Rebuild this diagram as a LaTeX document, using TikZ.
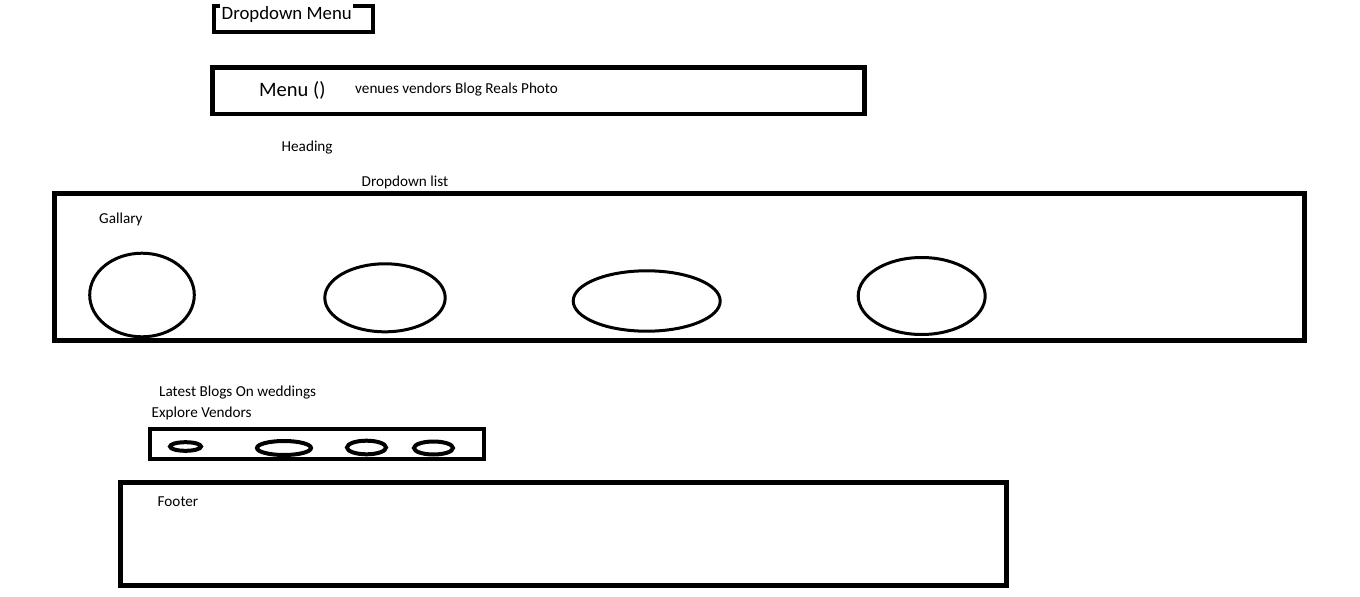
\documentclass[tikz,border=0pt]{standalone}
\usepackage{fontspec}
\setmainfont{Carlito}
\begin{document}
\begin{tikzpicture}[x=1pt,y=-1pt,
  frame/.style={draw=black,line width=4.5pt},
  bigoval/.style={draw=black,line width=3pt},
  smalloval/.style={draw=black,line width=4pt},
  lbl/.style={anchor=base west,inner sep=0pt,font=\fontsize{15.2}{18}\selectfont,text=black},
  menulbl/.style={anchor=base west,inner sep=0pt,font=\fontsize{20.5}{24}\selectfont,text=black},
  ddlbl/.style={anchor=base west,inner ysep=0pt,inner xsep=1.5pt,fill=white,text height=16.5pt,text depth=4pt,font=\fontsize{18.8}{22}\selectfont,text=black}]
\useasboundingbox[fill=white] (0,0) rectangle (1360,597);

% Dropdown Menu box
\draw[frame,line width=4pt] (214,6) rectangle (373,31.5);
\node[ddlbl] (ddmenu) at (220,19.5) {Dropdown Menu};

% Menu bar
\draw[frame] (212.5,67.5) rectangle (864.5,114);
\node[menulbl] (menu) at (259,96) {Menu ()};
\node[lbl] (items) at (355,93.5) {venues vendors Blog Reals Photo};

\node[lbl] (heading) at (281.5,151.5) {Heading};
\node[lbl] (ddlist) at (361.5,186) {Dropdown list};

% Gallery
\draw[frame,line width=5pt] (54,193.5) rectangle (1304.5,340.5);
\node[lbl] (gallary) at (99,223) {Gallary};
\draw[bigoval] (142,295) ellipse [x radius=52.3,y radius=41.8];
\draw[bigoval] (385,297.8) ellipse [x radius=60.2,y radius=34];
\draw[bigoval] (646.7,301) ellipse [x radius=73.5,y radius=30.2];
\draw[bigoval] (921.7,296) ellipse [x radius=63.5,y radius=38.5];

\node[lbl] (blogs) at (159,396.5) {Latest Blogs On weddings};
\node[lbl] (explore) at (151.5,417) {Explore Vendors};

% Vendors strip
\draw[frame,line width=4pt] (150,429) rectangle (484,458.5);
\draw[smalloval] (185.5,446.5) ellipse [x radius=15.5,y radius=4.3];
\draw[smalloval] (284,448) ellipse [x radius=27,y radius=7];
\draw[smalloval] (366.5,447.5) ellipse [x radius=19.5,y radius=6.8];
\draw[smalloval] (433.5,448) ellipse [x radius=19.5,y radius=6.5];

% Footer
\draw[frame,line width=5pt] (120,482.5) rectangle (1006.5,585.5);
\node[lbl] (footer) at (157.5,506) {Footer};
\end{tikzpicture}
\end{document}
